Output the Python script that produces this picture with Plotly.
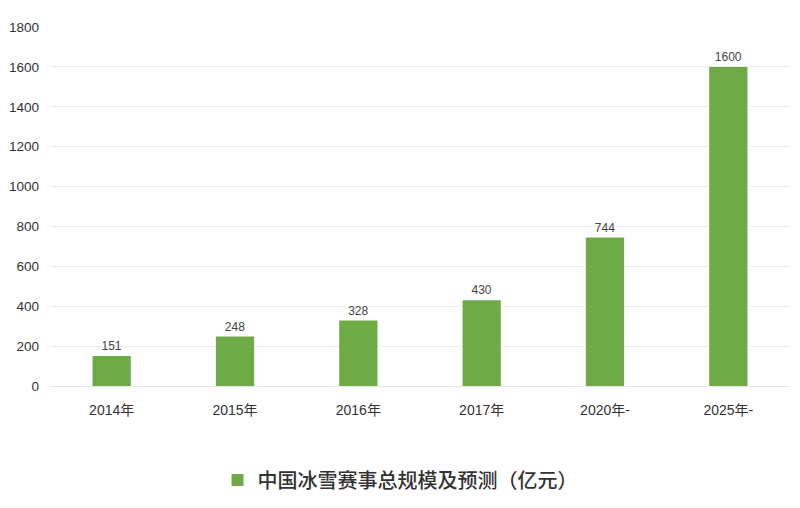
import plotly.graph_objects as go

categories = ["2014年", "2015年", "2016年", "2017年", "2020年-", "2025年-"]
values = [151, 248, 328, 430, 744, 1600]
series_name = "中国冰雪赛事总规模及预测（亿元）"
y_ticks = [0, 200, 400, 600, 800, 1000, 1200, 1400, 1600, 1800]

fig = go.Figure()
fig.add_trace(go.Bar(
    x=categories, y=values, name=series_name,
    marker=dict(color="#6EAB46", line=dict(width=0)),
    width=0.31,
    text=[str(v) for v in values], textposition="outside",
    textfont=dict(size=12, color="#444444", family="Liberation Sans, Arial, sans-serif"),
    cliponaxis=False,
    showlegend=True,
))

fig.update_layout(
    width=800, height=508,
    margin=dict(l=42, r=18, t=19, b=130, autoexpand=False),
    plot_bgcolor="white", paper_bgcolor="white",
    font=dict(family="Liberation Sans, Noto Sans CJK SC, sans-serif", color="#333333"),
    xaxis=dict(
        automargin=False,
        showline=True, linecolor="#e6e6e6", linewidth=1,
        ticks="", tickfont=dict(size=14, color="#333333", family="Liberation Sans, Noto Sans CJK SC, sans-serif"),
        showgrid=False, ticklabelstandoff=11,
    ),
    yaxis=dict(
        automargin=False,
        range=[0, 1800], tickvals=y_ticks,
        showgrid=True, gridcolor="#ececec", gridwidth=1,
        zeroline=False, showline=False,
        tickfont=dict(size=13.5, color="#333333"),
        ticklabelstandoff=10,
    ),
    showlegend=True,
    legend=dict(
        orientation="h", x=0.473, xanchor="center", y=-0.262, yanchor="middle",
        font=dict(size=20, color="#333333", family="Noto Sans CJK SC, sans-serif", weight=500),
        itemwidth=30,
    ),
    bargap=0.69,
)

fig.write_html("out.html")
